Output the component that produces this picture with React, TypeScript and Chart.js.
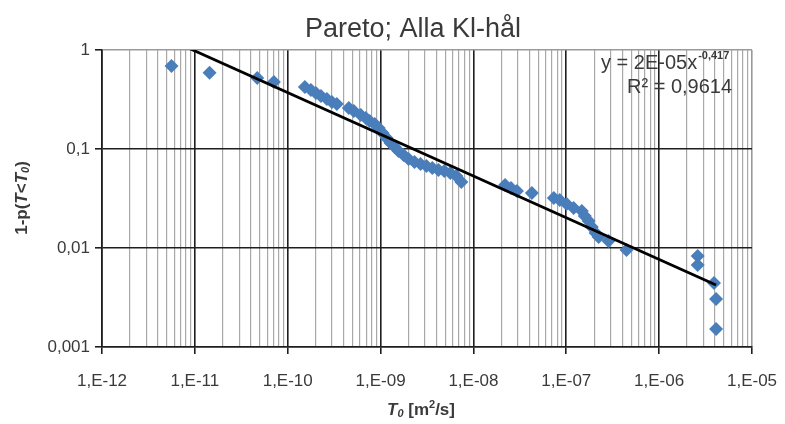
import React, { useEffect, useRef } from "react";
import { Chart, registerables } from "chart.js";

Chart.register(...registerables);

const chartTitle = "Pareto; Alla Kl-hål";

// Transmissivity T0 [m2/s]
const tValues = [
  5.6e-12, 1.44e-11, 4.7e-11, 7.1e-11,
  1.53e-10, 1.78e-10, 2.01e-10, 2.28e-10, 2.64e-10, 2.99e-10, 3.38e-10, 4.55e-10, 5.15e-10, 6.12e-10,
  6.92e-10, 7.64e-10, 8.65e-10, 9.55e-10, 1.05e-9, 1.16e-9, 1.28e-9, 1.42e-9, 1.56e-9, 1.77e-9,
  2.0e-9, 2.32e-9, 2.69e-9, 3.12e-9, 3.61e-9, 4.2e-9, 4.86e-9, 5.64e-9, 6.54e-9, 7.4e-9,
  2.19e-8, 2.54e-8, 2.94e-8, 4.26e-8, 7.34e-8, 8.51e-8, 1.01e-7, 1.2e-7, 1.47e-7, 1.58e-7,
  1.74e-7, 1.88e-7, 2.07e-7, 2.23e-7, 2.85e-7, 4.45e-7,
  2.6e-6, 2.6e-6, 3.9e-6, 4.1e-6, 4.1e-6,
];

// 1-p(T<T0)
const pValues = [
  0.69, 0.59, 0.52, 0.475,
  0.423, 0.394, 0.368, 0.343, 0.32, 0.298, 0.285, 0.26, 0.242, 0.221,
  0.206, 0.192, 0.179, 0.163, 0.145, 0.129, 0.115, 0.105, 0.0955, 0.087,
  0.0792, 0.0739, 0.0705, 0.0673, 0.0643, 0.0614, 0.06, 0.0573, 0.0534, 0.0464,
  0.0433, 0.0404, 0.0376, 0.0359, 0.032, 0.0305, 0.0278, 0.0254, 0.0237, 0.021,
  0.0187, 0.0163, 0.0142, 0.0129, 0.0118, 0.00955,
  0.0083, 0.00673, 0.00443, 0.00305, 0.00152,
];

// Power trendline endpoints (y = 2E-05 x^-0.417)
const trendX = [5.6e-12, 4.1e-6];
const trendY = [1.25, 0.00423];

const xMajorTicks = [1e-12, 1e-11, 1e-10, 1e-9, 1e-8, 1e-7, 1e-6, 1e-5];
const xTickLabels = ["1,E-12", "1,E-11", "1,E-10", "1,E-09", "1,E-08", "1,E-07", "1,E-06", "1,E-05"];
const yMajorTicks = [0.001, 0.01, 0.1, 1];
const yTickLabels = ["0,001", "0,01", "0,1", "1"];

const equationMain = "y = 2E-05x";
const equationExp = "-0,417";
const equationR2 = "R² = 0,9614";

const FONT = "'Liberation Sans', Arial, sans-serif";
const TEXT_COLOR = "#3a3a3a";

const isSame = (a: number, b: number) => Math.abs(a / b - 1) < 1e-6;

const xAllTicks: number[] = [];
xMajorTicks.forEach((m, i) => {
  xAllTicks.push(m);
  if (i < xMajorTicks.length - 1) {
    for (let k = 2; k <= 9; k++) xAllTicks.push(m * k);
  }
});

type Seg = { t: string; font: string; dy?: number };

function drawSegs(ctx: CanvasRenderingContext2D, segs: Seg[], cx: number, cy: number) {
  let total = 0;
  const widths = segs.map((s) => {
    ctx.font = s.font;
    const w = ctx.measureText(s.t).width;
    total += w;
    return w;
  });
  let x = cx - total / 2;
  ctx.textBaseline = "middle";
  ctx.textAlign = "left";
  segs.forEach((s, i) => {
    ctx.font = s.font;
    ctx.fillText(s.t, x, cy + (s.dy || 0));
    x += widths[i];
  });
}

const textPlugin = {
  id: "customText",
  afterDraw(chart: any) {
    const ctx: CanvasRenderingContext2D = chart.ctx;
    ctx.save();
    ctx.fillStyle = TEXT_COLOR;

    // title
    ctx.font = `27px ${FONT}`;
    ctx.textAlign = "center";
    ctx.textBaseline = "middle";
    ctx.fillText(chartTitle, 413, 30);

    // equation
    ctx.font = `20px ${FONT}`;
    ctx.textBaseline = "alphabetic";
    ctx.textAlign = "left";
    ctx.fillText(equationMain, 601, 69);
    const w = ctx.measureText(equationMain).width;
    ctx.font = `bold 11px ${FONT}`;
    ctx.fillText(equationExp, 601 + w + 1, 59);
    ctx.font = `20px ${FONT}`;
    ctx.fillText(equationR2, 627, 93);

    // y axis title
    const b = `bold 17px ${FONT}`;
    const bi = `italic bold 17px ${FONT}`;
    const sub = `italic bold 11px ${FONT}`;
    ctx.save();
    ctx.translate(22, 198);
    ctx.rotate(-Math.PI / 2);
    drawSegs(ctx, [
      { t: "1-p(", font: b },
      { t: "T", font: bi },
      { t: "<", font: b },
      { t: "T", font: bi },
      { t: "0", font: sub, dy: 4 },
      { t: ")", font: b },
    ], 0, 0);
    ctx.restore();

    // x axis title
    drawSegs(ctx, [
      { t: "T", font: bi },
      { t: "0", font: sub, dy: 4 },
      { t: " [m", font: b },
      { t: "2", font: `bold 11px ${FONT}`, dy: -5 },
      { t: "/s]", font: b },
    ], 421, 410);
    ctx.restore();
  },
};

export default function App() {
  const ref = useRef<HTMLCanvasElement | null>(null);

  useEffect(() => {
    if (!ref.current) return;
    const chart = new Chart(ref.current, {
      type: "scatter",
      data: {
        datasets: [
          {
            type: "line",
            label: "Trend",
            data: trendX.map((x, i) => ({ x, y: trendY[i] })),
            borderColor: "#000000",
            borderWidth: 2.8,
            pointRadius: 0,
            showLine: true,
            fill: false,
          } as any,
          {
            label: "Alla Kl-hål",
            data: tValues.map((x, i) => ({ x, y: pValues[i] })),
            pointStyle: "rectRot",
            pointRadius: 7,
            backgroundColor: "#4A7EBB",
            borderColor: "#4A7EBB",
            borderWidth: 0,
          },
        ],
      },
      options: {
        responsive: false,
        animation: false,
        layout: { padding: { left: 0, right: 33, top: 50, bottom: 0 } },
        plugins: {
          legend: { display: false },
          tooltip: { enabled: false },
          title: { display: false },
        },
        scales: {
          x: {
            type: "logarithmic",
            min: 1e-12,
            max: 1e-5,
            afterBuildTicks: (scale: any) => {
              scale.ticks = xAllTicks.map((v) => ({ value: v }));
            },
            afterFit: (scale: any) => {
              scale.height = 77;
              scale.paddingLeft = 0;
              scale.paddingRight = 0;
            },
            ticks: {
              autoSkip: false,
              maxRotation: 0,
              color: TEXT_COLOR,
              font: { family: FONT, size: 17 },
              padding: 17,
              callback: (value: any) => {
                const idx = xMajorTicks.findIndex((m) => isSame(Number(value), m));
                return idx >= 0 ? xTickLabels[idx] : "";
              },
            },
            grid: {
              color: (ctx: any) => {
                const v = ctx.tick ? ctx.tick.value : 0;
                if (isSame(v, 1e-5)) return "#9a9a9a";
                return xMajorTicks.some((m) => isSame(v, m)) ? "#1e1e1e" : "#a8a8a8";
              },
              lineWidth: (ctx: any) => {
                const v = ctx.tick ? ctx.tick.value : 0;
                return xMajorTicks.some((m) => isSame(v, m)) ? 1.6 : 1.2;
              },
              tickColor: (ctx: any) => {
                const v = ctx.tick ? ctx.tick.value : 0;
                return xMajorTicks.some((m) => isSame(v, m)) ? "#1e1e1e" : "rgba(0,0,0,0)";
              },
              tickLength: 7,
              drawTicks: true,
            },
            border: { display: true, color: "#1e1e1e", width: 1.6 },
          },
          y: {
            type: "logarithmic",
            min: 0.001,
            max: 1,
            afterBuildTicks: (scale: any) => {
              scale.ticks = yMajorTicks.map((v) => ({ value: v }));
            },
            afterFit: (scale: any) => {
              scale.width = 102;
              scale.paddingTop = 0;
              scale.paddingBottom = 0;
            },
            ticks: {
              autoSkip: false,
              color: TEXT_COLOR,
              font: { family: FONT, size: 17 },
              padding: 5,
              callback: (value: any) => {
                const idx = yMajorTicks.findIndex((m) => isSame(Number(value), m));
                return idx >= 0 ? yTickLabels[idx] : "";
              },
            },
            grid: {
              color: (ctx: any) => {
                const v = ctx.tick ? ctx.tick.value : 0;
                return isSame(v, 1) ? "#9a9a9a" : "#1e1e1e";
              },
              lineWidth: 1.6,
              tickColor: "#1e1e1e",
              tickLength: 7,
            },
            border: { display: true, color: "#1e1e1e", width: 1.6 },
          },
        },
      },
      plugins: [textPlugin],
    });
    return () => chart.destroy();
  }, []);

  return (
    <div style={{ position: "fixed", left: 0, top: 0, width: 785, height: 424, background: "#fff" }}>
      <canvas ref={ref} width={785} height={424} style={{ display: "block" }} />
    </div>
  );
}
